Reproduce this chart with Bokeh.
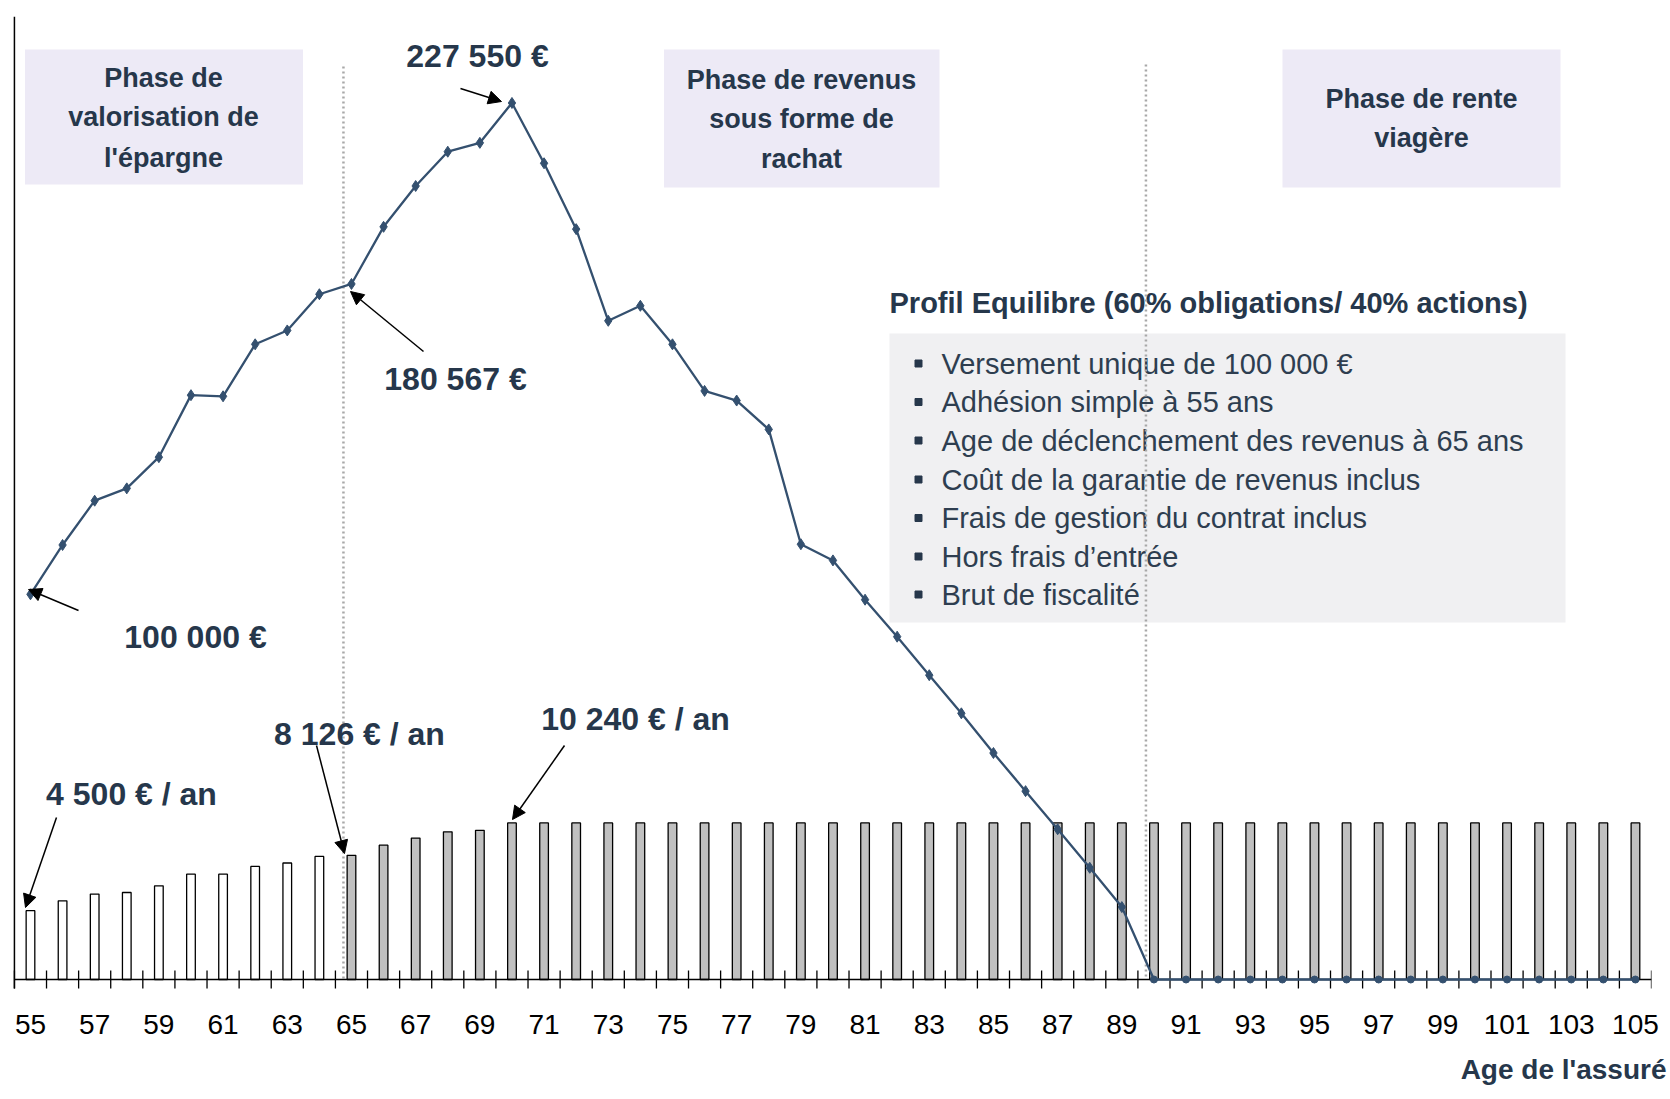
from bokeh.plotting import figure
from bokeh.models import Range1d, FixedTicker, Arrow, NormalHead, Title
from bokeh.embed import file_html
from bokeh.resources import INLINE
from bokeh.core.properties import value

# ---------------- data ----------------
ages = list(range(55, 106))
capital = [100000, 112800, 124300, 127500, 135600, 151700, 151400, 164900, 168500, 177900,
           180567, 195400, 206000, 214900, 217200, 227550, 211900, 194800, 171000, 174900,
           164900, 152800, 150300, 142800, 113000, 108800, 98600, 89000, 79000, 69100,
           58800, 48900, 39000, 29000, 18800, 0, 0, 0, 0, 0,
           0, 0, 0, 0, 0, 0, 0, 0, 0, 0, 0]
income = [4500, 5150, 5590, 5690, 6130, 6890, 6890, 7400, 7620, 8050,
          8126, 8790, 9250, 9660, 9760, 10240, 10240, 10240, 10240, 10240,
          10240, 10240, 10240, 10240, 10240, 10240, 10240, 10240, 10240, 10240,
          10240, 10240, 10240, 10240, 10240, 10240, 10240, 10240, 10240, 10240,
          10240, 10240, 10240, 10240, 10240, 10240, 10240, 10240, 10240, 10240, 10240]
tick_labels = ages[::2]
income_start_age = 65
annuity_start_age = 90

phase_titles = [["Phase de", "valorisation de", "l'épargne"],
                ["Phase de revenus", "sous forme de", "rachat"],
                ["Phase de rente", "viagère"]]
profile_title = "Profil Equilibre (60% obligations/ 40% actions)"
bullets = ["Versement unique de 100 000 €",
           "Adhésion simple à 55 ans",
           "Age de déclenchement des revenus à 65 ans",
           "Coût de la garantie de revenus inclus",
           "Frais de gestion du contrat inclus",
           "Hors frais d’entrée",
           "Brut de fiscalité"]
x_title = "Age de l'assuré"

# ---------------- layout helpers (figure pixels) ----------------
W, H = 1668, 1099
FL, FR, FT, FB = 12, 1651, 16, 989
ZERO_PY = 979
X0, X1 = 54.44, 105.5
Y_TOP = 250000
BAR_TOP = 63000


def px2x(px):
    return X0 + (px - FL) * (X1 - X0) / (FR - FL)


def py2y(py):
    return (ZERO_PY - py) * Y_TOP / (ZERO_PY - FT)


Y0 = py2y(FB)
Y0B = Y0 * BAR_TOP / Y_TOP

DARK = "#26374B"
LINE = "#34506F"
FONT = "Liberation Sans"


def eur(v):
    return f"{v:,}".replace(",", " ") + " €"


p = figure(width=W, height=H, x_range=Range1d(X0, X1), y_range=Range1d(Y0, Y_TOP),
           output_backend="svg", toolbar_location=None, y_axis_location=None,
           min_border_left=FL, min_border_right=W - FR,
           min_border_top=FT, min_border_bottom=H - FB,
           background_fill_color="white", border_fill_color="white",
           outline_line_color=None)
p.extra_y_ranges = {"bars": Range1d(Y0B, BAR_TOP)}
p.xgrid.visible = False
p.ygrid.visible = False

# phase boxes
boxes = [(24.5, 302.5, 49, 184), (663.5, 939, 49, 187), (1282, 1560, 49, 187)]
p.quad(left=[px2x(b[0]) for b in boxes], right=[px2x(b[1]) for b in boxes],
       top=[py2y(b[2]) for b in boxes], bottom=[py2y(b[3]) for b in boxes],
       fill_color="#EDEAF6", line_color=None)
centers = [(163, [77, 116, 157]), (801, [79, 118, 158]), (1421, [98, 137])]
for (cx, ys), lines in zip(centers, phase_titles):
    p.text(x=[px2x(cx)] * len(lines), y=[py2y(v) for v in ys], text=lines,
           text_font=value(FONT), text_font_style="bold", text_font_size="27px",
           text_color=DARK, text_align="center", text_baseline="middle")

# info box
p.quad(left=[px2x(889)], right=[px2x(1565)], top=[py2y(333)], bottom=[py2y(622)],
       fill_color="#F0F0F2", line_color=None)
p.text(x=[px2x(889)], y=[py2y(302)], text=[profile_title], text_font=value(FONT),
       text_font_style="bold", text_font_size="29px", text_color=DARK,
       text_align="left", text_baseline="middle")
b_ys = [363, 401.5, 440, 479, 517.5, 556, 594]
p.scatter(x=[px2x(918)] * len(bullets), y=[py2y(v) for v in b_ys], marker="square",
          size=7, color=DARK)
p.text(x=[px2x(941)] * len(bullets), y=[py2y(v) for v in b_ys], text=bullets,
       text_font=value(FONT), text_font_size="29px", text_color="#2E3E50",
       text_align="left", text_baseline="middle")

# bars
colors = ["white" if a < income_start_age else "#C0C0C0" for a in ages]
p.vbar(x=ages, top=income, bottom=0, width=0.27, fill_color=colors, line_color="black",
       line_width=1.3, y_range_name="bars")

# dotted phase separators
p.segment(x0=[income_start_age - 0.25, annuity_start_age - 0.25],
          x1=[income_start_age - 0.25, annuity_start_age - 0.25],
          y0=[py2y(66), py2y(64)], y1=[0, 0], line_color="#A8A8A8", line_width=2.5,
          line_dash="2 3")

# axes drawn by hand
p.segment(x0=[ages[0] - 0.5], x1=[ages[-1] + 0.5], y0=[0], y1=[0], line_color="black", line_width=1.5)
p.segment(x0=[ages[0] - 0.5], x1=[ages[0] - 0.5], y0=[py2y(ZERO_PY + 9)], y1=[Y_TOP],
          line_color="black", line_width=1.5)
bounds = [a - 0.5 for a in ages] + [ages[-1] + 0.5]
p.segment(x0=bounds, x1=bounds, y0=[py2y(ZERO_PY + 9)] * len(bounds),
          y1=[py2y(ZERO_PY - 9)] * len(bounds), line_color="black", line_width=1.3)

# capital line
p.line(ages, capital, line_color=LINE, line_width=2.3)
pos = [(a, c) for a, c in zip(ages, capital) if c > 0]
zer = [(a, c) for a, c in zip(ages, capital) if c == 0]
p.scatter([a for a, _ in pos], [c for _, c in pos], marker="diamond", size=11, color=LINE)
p.scatter([a for a, _ in zer], [c for _, c in zer], marker="circle", size=7, color=LINE)

# annotations
i65 = ages.index(65)
i70 = ages.index(70)
notes = [
    (eur(capital[i70]), 477, 55, (460, 88), (501, 101)),
    (eur(capital[i65]), 455, 378, (423, 351), (350, 291)),
    (eur(capital[0]), 195, 636, (78, 610), (28, 589)),
    (eur(income[0]) + " / an", 131, 793, (56, 817), (25, 907)),
    (eur(income[i65]) + " / an", 359, 733, (316, 745), (344, 853)),
    (eur(income[i70]) + " / an", 635, 718, (564, 745), (512, 819)),
]
p.text(x=[px2x(n[1]) for n in notes], y=[py2y(n[2]) for n in notes], text=[n[0] for n in notes],
       text_font=value(FONT), text_font_style="bold", text_font_size="32px", text_color=DARK,
       text_align="center", text_baseline="middle")
for n in notes:
    (sx, sy), (ex, ey) = n[3], n[4]
    p.add_layout(Arrow(end=NormalHead(size=13, fill_color="black", line_color="black"),
                       x_start=px2x(sx), y_start=py2y(sy), x_end=px2x(ex), y_end=py2y(ey),
                       line_color="black", line_width=1.5))

# x axis labels
ax = p.xaxis[0]
ax.ticker = FixedTicker(ticks=tick_labels)
ax.axis_line_color = None
ax.major_tick_line_color = None
ax.minor_tick_line_color = None
ax.major_tick_in = 0
ax.major_tick_out = 0
ax.major_label_standoff = 25
ax.major_label_text_font = FONT
ax.major_label_text_font_size = "28px"
ax.major_label_text_color = "black"

p.add_layout(Title(text=x_title, align="right", text_font=FONT, text_font_style="bold",
                   text_font_size="28px", text_color=DARK, standoff=30, offset=-15), "below")

open("out.html", "w").write(file_html(p, INLINE))
